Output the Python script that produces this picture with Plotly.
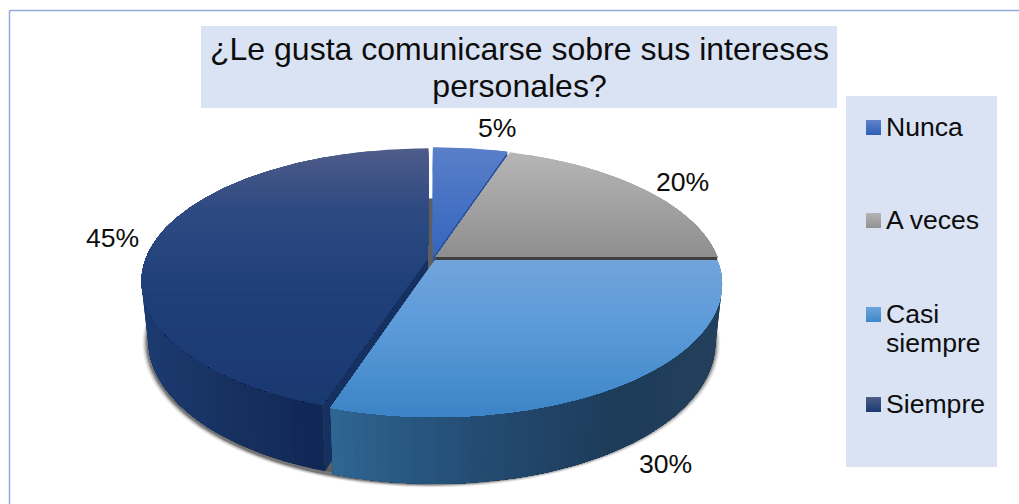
# Camembert 3D "¿Le gusta comunicarse...": plotly n'a pas de pie 3D,
# les parts sont donc des polygones calculés à partir des valeurs

import math
import plotly.graph_objects as go

categories = ["Nunca", "A veces", "Casi<br>siempre", "Siempre"]
values = [5, 20, 30, 45]
title_text = "¿Le gusta comunicarse sobre sus intereses<br>personales?"

# positions des étiquettes et de la légende
label_x = [497, 682, 665, 112]
label_y = [128, 182, 464, 238]
legend_y = [127, 220, 328.5, 404]
swatch_y = [127.5, 220.5, 314.5, 404.5]

# géométrie de la perspective
CX, CY, RX = 432.3, 258.3, 282
TILT, SKEW = 0.1752, -83.67
EXPLODE = 0.0156
BOTTOM_SX, BOTTOM_SY, BOTTOM_DY = 0.977, 1.063, 40.7

FONT = "Liberation Sans"
TEXT_COLOR = "#0d0d0d"
PANEL = "#dae3f3"

top_stops = [
    [(147, "#5a7fc8"), (258, "#3465be")],
    [(152, "#b6b6b6"), (258, "#8e8e8e")],
    [(260, "#71a4db"), (330, "#5a9ad9"), (417, "#3c84c6")],
    [(149, "#4e5c8a"), (210, "#2e4a82"), (285, "#20407a"), (405, "#1a3971")],
]
radial_wall = ["#2b529f", "#404040", None, "#16305f"]
outer_stops = [
    None,
    None,
    [(334, "#2f6591"), (420, "#27557e"), (520, "#21466a"), (620, "#1d3c59"), (714, "#233f5c")],
    [(147, "#1c3a70"), (230, "#17315f"), (325, "#102654")],
]
swatch_top = ["#5f83c9", "#b4b4b4", "#6ea5dd", "#4e5c8a"]
swatch_bottom = ["#2f5fb8", "#929292", "#3f87c9", "#1a3971"]
shadow_layers = [(9, "#efefef"), (8, "#dcdcdc"), (7, "#c0c0c0"), (6, "#9a9a9a"), (5, "#757575"), (0, "#5f5f5f")]


def mix(stops, pos):
    if pos <= stops[0][0]:
        return stops[0][1]
    for (p0, c0), (p1, c1) in zip(stops, stops[1:]):
        if pos <= p1:
            t = (pos - p0) / (p1 - p0)
            rgb = [int(c0[i:i+2], 16) * (1 - t) + int(c1[i:i+2], 16) * t for i in (1, 3, 5)]
            return "#%02x%02x%02x" % tuple(round(c) for c in rgb)
    return stops[-1][1]


def project(u, v, bottom=False):
    d = TILT * v + 1
    x = CX + RX * u / d
    y = (SKEW * v + CY) / d
    if bottom:
        x = CX + BOTTOM_SX * (x - CX)
        y = BOTTOM_SY * y + BOTTOM_DY
    return x, y


def rim(angle, off, bottom=False):
    a = math.radians(angle)
    return project(math.sin(a) + off[0], math.cos(a) + off[1], bottom)


def clip_below(points, ymin):
    # garde la partie du polygone sous ymin
    out = []
    for i, p in enumerate(points):
        q = points[(i + 1) % len(points)]
        dp, dq = p[1] - ymin, q[1] - ymin
        if dp >= 0:
            out.append(p)
        if dp * dq < 0:
            t = dp / (dp - dq)
            out.append((p[0] + t * (q[0] - p[0]), p[1] + t * (q[1] - p[1])))
    return out


fig = go.Figure()


def add_poly(points, color):
    xs = [p[0] for p in points] + [points[0][0]]
    ys = [p[1] for p in points] + [points[0][1]]
    fig.add_trace(go.Scatter(x=xs, y=ys, mode="lines", fill="toself", fillcolor=color,
                             line=dict(color=color, width=0), hoverinfo="skip", showlegend=False))


# ombre sous le camembert
ring = [rim(a, (0, 0), True) for a in range(0, 360, 2)]
for grow, color in shadow_layers:
    sx = (RX * BOTTOM_SX + grow) / (RX * BOTTOM_SX)
    sy = 1 + 0.0214 * grow / 9
    add_poly([(CX - 1 + sx * (x - CX), 197 + sy * (y - 197)) for x, y in ring], color)

# angles cumulés des parts
total = sum(values)
slices = []
start = 0
for val in values:
    end = start + val / total * 360
    mid = math.radians((start + end) / 2)
    slices.append((start, end, (EXPLODE * math.sin(mid), EXPLODE * math.cos(mid))))
    start = end

for idx in [3, 0, 1, 2]:
    a0, a1, off = slices[idx]

    # paroi radiale visible
    if radial_wall[idx]:
        edge = a1 if idx != 3 else a0
        add_poly([project(off[0], off[1]), rim(edge, off), rim(edge, off, True),
                  project(off[0], off[1], True)], radial_wall[idx])

    # paroi extérieure, dégradé horizontal, chaque bande recouvre la suite
    if outer_stops[idx]:
        last = min(a1, 290)
        steps = int((last - a0) / 2)
        angles = [a0 + (last - a0) * s / steps for s in range(steps + 1)]
        for s in range(steps):
            arc = angles[s:]
            pts = [rim(t, off) for t in arc] + [rim(t, off, True) for t in reversed(arc)]
            xm = (rim(angles[s], off)[0] + rim(angles[s + 1], off)[0]) / 2
            add_poly(pts, mix(outer_stops[idx], xm))

    # dessus de la part, dégradé vertical
    n = max(int(a1 - a0), 2) * 2
    outline = [project(off[0], off[1])] + [rim(a0 + (a1 - a0) * k / n, off) for k in range(n + 1)]
    ys = [p[1] for p in outline]
    y = min(ys)
    while y < max(ys):
        band = clip_below(outline, y)
        if len(band) > 2:
            add_poly(band, mix(top_stops[idx], y + 1.5))
        y += 3

# carrés de la légende
for i, name in enumerate(categories):
    fig.add_trace(go.Scatter(x=[873.5], y=[swatch_y[i]], mode="markers",
                             marker=dict(symbol="square", size=15, color=swatch_top[i], line_width=0,
                                         gradient=dict(type="vertical", color=swatch_bottom[i])),
                             hoverinfo="skip", showlegend=False))

annotations = []
for i, val in enumerate(values):
    annotations.append(dict(x=label_x[i], y=label_y[i], text="%d%%" % val, showarrow=False,
                            xanchor="center", yanchor="middle",
                            font=dict(family=FONT, size=26.6, color=TEXT_COLOR)))
# la taille de base fixe l'interligne (1.3em), le span fixe la taille du texte
for i, name in enumerate(categories):
    annotations.append(dict(x=884, y=legend_y[i], showarrow=False, xanchor="left", yanchor="middle", align="left",
                            text="<br>".join('<span style="font-size:26.6px">%s</span>' % s for s in name.split("<br>")),
                            font=dict(family=FONT, size=22.5, color=TEXT_COLOR)))

shapes = [
    dict(type="rect", x0=201, x1=837, y0=26, y1=108, fillcolor=PANEL, line_width=0, layer="below"),
    dict(type="rect", x0=846, x1=997, y0=96, y1=467, fillcolor=PANEL, line_width=0, layer="below"),
    dict(type="line", x0=9.5, x1=1019, y0=10.5, y1=10.5, line=dict(color="#8faadc", width=1.5), layer="below"),
    dict(type="line", x0=9.5, x1=9.5, y0=10.5, y1=504, line=dict(color="#8faadc", width=1.5), layer="below"),
]

fig.update_layout(
    width=1019, height=504,
    margin=dict(l=0, r=0, t=0, b=0),
    paper_bgcolor="white", plot_bgcolor="white",
    showlegend=False,
    title=dict(text="<br>".join('<span style="font-size:32px">%s</span>' % s for s in title_text.split("<br>")),
               x=519.5 / 1019, xanchor="center", y=1 - 60 / 504, yanchor="middle",
               font=dict(family=FONT, size=28.2, color=TEXT_COLOR)),
    xaxis=dict(range=[0, 1019], visible=False, fixedrange=True),
    yaxis=dict(range=[504, 0], visible=False, fixedrange=True),
    shapes=shapes, annotations=annotations,
)

fig.write_html("out.html", post_script="document.body.style.margin='0';",
               config=dict(displayModeBar=False))
